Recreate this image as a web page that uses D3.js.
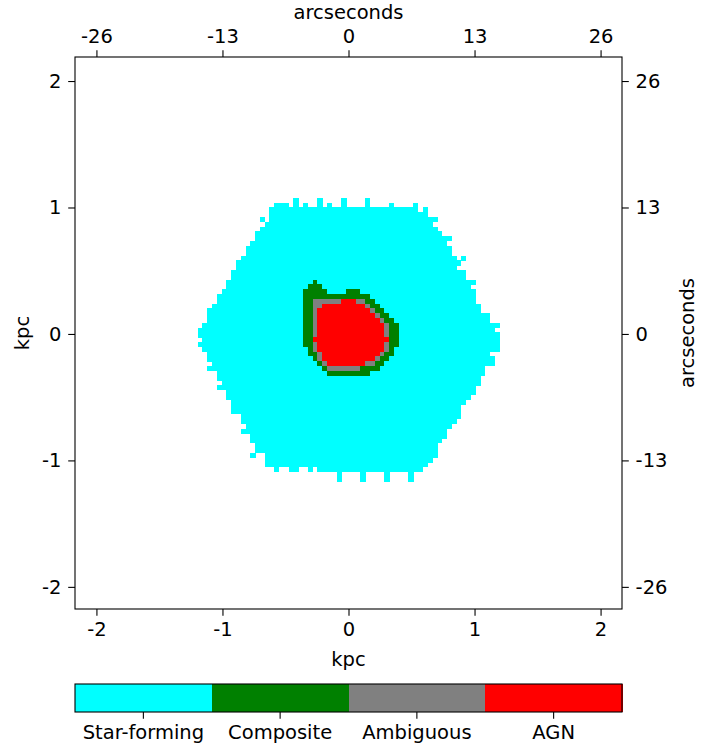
<!DOCTYPE html>
<html><head><meta charset="utf-8">
<script src="https://cdn.jsdelivr.net/npm/d3@7"></script>
<style>
html,body{margin:0;padding:0;background:#fff;}
text{font-family:"DejaVu Sans",sans-serif;fill:#000;}
</style></head>
<body><svg id="chart" width="716" height="749"></svg>
<script>
// ---------------- data ----------------
const categories = ["Star-forming", "Composite", "Ambiguous", "AGN"];
const categoryCodes = ["S", "C", "A", "G"];
const categoryColors = ["#00ffff", "#008000", "#808080", "#ff0000"];
const kpcTicks = [-2, -1, 0, 1, 2];
const kpcTickLabels = ["-2", "-1", "0", "1", "2"];
const arcsecTickLabels = ["-26", "-13", "0", "13", "26"];

// spaxel rows (row id | runs of category code + column range)
const hexRows = [
"27|S-11 S-6 S-1 S4",
"26|S-15:-13 S-11 S-9 S-6 S-4 S-1 S4 S9 S14",
"25|S-16:14 S16",
"24|S-16:16",
"23|S-18 S-16:18",
"22|S-17:17",
"21|S-18:18",
"20|S-19:19",
"19|S-19:21",
"18|S-20:20",
"17|S-21:21",
"16|S-21:21",
"15|S-22:22 S24",
"14|S-23:23",
"13|S-23:22",
"12|S-24:24",
"11|S-24:24",
"10|S-25:26",
"9|S-25:25",
"8|S-26:26",
"7|S-27:26",
"6|S-27:26",
"5|S-28:27",
"4|S-29:27",
"3|S-29:29",
"2|S-29:29",
"1|S-30:31",
"0|S-31:30",
"-1|S-31:31",
"-2|S-30:31",
"-3|S-31:31",
"-4|S-30:31",
"-5|S-29:29",
"-6|S-29:30",
"-7|S-28:30",
"-8|S-29:28",
"-9|S-27:28",
"-10|S-27:27",
"-11|S-26:27",
"-12|S-27:26",
"-13|S-25:26",
"-14|S-25:25",
"-15|S-24:24",
"-16|S-24:23",
"-17|S-24:23",
"-18|S-22:23",
"-19|S-22:22",
"-20|S-21:21",
"-21|S-22:20",
"-22|S-20:20",
"-23|S-20:19",
"-24|S-19:18",
"-25|S-19:18",
"-26|S-20 S-17:18",
"-27|S-17:17",
"-28|S-17:16",
"-29|S-15 S-12:-11 S-8 S-6:15",
"-30|S-2 S3 S8 S13",
"-31|S-2 S3 S8 S13"
];
const nucleusRows = [
"10|C-7",
"9|C-8:-6",
"8|C-9:-5 C0:2",
"7|C-9:4",
"6|C-9:-8 A-7:-2 G-1:1 A2:3 C4:5",
"5|C-9:-8 A-7:-6 G-5:3 A4 C5:6",
"4|C-9:-8 A-7 G-6:4 A5 C6:7",
"3|C-9:-8 A-7 G-6:5 A6 C7:8",
"2|C-9:-8 A-7 G-6:6 A7 C8:9",
"1|C-9:-8 A-7 G-6:7 A8 C9:10",
"0|C-9:-8 A-7 G-6:7 A8 C9:10",
"-1|C-9:-8 A-7 G-6:7 A8 C9:10",
"-2|C-9:-8 G-7:8 C9:10",
"-3|C-9:-8 A-7 G-6:7 A8 C9:10",
"-4|C-8 A-7 G-6:7 A8 C9",
"-5|C-8:-7 A-6 G-5:6 A7 C8:9",
"-6|C-7 A-6 G-5:5 A6 C7:8",
"-7|C-6 A-5 G-4:3 A4:5 C6:7",
"-8|C-5 A-4:2 C3:6",
"-9|C-4:4"
];

// ---------------- layout ----------------
const spax = 0.038;        // spaxel size in kpc
const rowOffset = 0.0123;  // grid offset in kpc
const margin = {left: 75, right: 622, top: 57, bottom: 609};

const svg = d3.select("#chart");
const x = d3.scaleLinear().domain([-2.17, 2.17]).range([margin.left, margin.right]);
const y = d3.scaleLinear().domain([-2.175, 2.19]).range([margin.bottom, margin.top]);
const color = d3.scaleOrdinal().domain(categoryCodes).range(categoryColors);

function parseRows(rows) {
  const cells = new Map();
  rows.forEach(line => {
    const [rid, runs] = line.split("|");
    const r = +rid;
    runs.trim().split(/\s+/).forEach(tok => {
      const code = tok[0];
      const parts = tok.slice(1).split(":").map(Number);
      const a = parts[0], b = parts.length > 1 ? parts[1] : parts[0];
      for (let c = a; c <= b; c++) cells.set(r + "," + c, {r, c, code});
    });
  });
  return cells;
}
const cellMap = parseRows(hexRows);
parseRows(nucleusRows).forEach((v, k) => cellMap.set(k, v));
const cells = Array.from(cellMap.values());

const map = svg.append("g").attr("shape-rendering", "crispEdges");
map.selectAll("rect").data(cells).join("rect")
  .attr("x", d => x((d.c - 0.5) * spax))
  .attr("width", d => x((d.c + 0.5) * spax) - x((d.c - 0.5) * spax) + 0.4)
  .attr("y", d => y(rowOffset + (d.r + 1) * spax))
  .attr("height", d => y(rowOffset + d.r * spax) - y(rowOffset + (d.r + 1) * spax) + 0.4)
  .attr("fill", d => color(d.code));

// ---------------- axes ----------------
const fs = 19.5, tl = 6.8, pad = 6.8;
function styleAxis(g) {
  g.selectAll("path").remove();
  g.selectAll("line").attr("stroke", "#000").attr("stroke-width", 1.1);
  g.selectAll("text").attr("font-size", fs).attr("font-family", "DejaVu Sans");
}
svg.append("g").attr("transform", `translate(0,${margin.bottom})`)
  .call(d3.axisBottom(x).tickValues(kpcTicks).tickFormat((d, i) => kpcTickLabels[i]).tickSize(tl).tickPadding(pad))
  .call(styleAxis);
svg.append("g").attr("transform", `translate(${margin.left},0)`)
  .call(d3.axisLeft(y).tickValues(kpcTicks).tickFormat((d, i) => kpcTickLabels[i]).tickSize(tl).tickPadding(pad))
  .call(styleAxis);
svg.append("g").attr("transform", `translate(0,${margin.top})`)
  .call(d3.axisTop(x).tickValues(kpcTicks).tickFormat((d, i) => arcsecTickLabels[i]).tickSize(tl).tickPadding(pad))
  .call(styleAxis);
svg.append("g").attr("transform", `translate(${margin.right},0)`)
  .call(d3.axisRight(y).tickValues(kpcTicks).tickFormat((d, i) => arcsecTickLabels[i]).tickSize(tl).tickPadding(pad))
  .call(styleAxis);

svg.append("rect").attr("x", margin.left).attr("y", margin.top)
  .attr("width", margin.right - margin.left).attr("height", margin.bottom - margin.top)
  .attr("fill", "none").attr("stroke", "#000").attr("stroke-width", 1.1);

svg.append("text").attr("x", (margin.left + margin.right) / 2).attr("y", 666)
  .attr("text-anchor", "middle").attr("font-size", fs).text("kpc");
svg.append("text").attr("x", (margin.left + margin.right) / 2).attr("y", 19)
  .attr("text-anchor", "middle").attr("font-size", fs).text("arcseconds");
svg.append("text").attr("transform", `translate(29,${(margin.top + margin.bottom) / 2}) rotate(-90)`)
  .attr("text-anchor", "middle").attr("font-size", fs).text("kpc");
svg.append("text").attr("transform", `translate(694,${(margin.top + margin.bottom) / 2}) rotate(-90)`)
  .attr("text-anchor", "middle").attr("font-size", fs).text("arcseconds");

// ---------------- colorbar ----------------
const cb = {top: 684, bottom: 712};
const cbx = d3.scaleBand().domain(categories).range([margin.left, margin.right]).padding(0);
svg.append("g").attr("shape-rendering", "crispEdges").selectAll("rect").data(categories).join("rect")
  .attr("x", d => cbx(d)).attr("y", cb.top).attr("width", cbx.bandwidth() + 0.5)
  .attr("height", cb.bottom - cb.top).attr("fill", (d, i) => categoryColors[i]);
svg.append("rect").attr("x", margin.left).attr("y", cb.top)
  .attr("width", margin.right - margin.left).attr("height", cb.bottom - cb.top)
  .attr("fill", "none").attr("stroke", "#000").attr("stroke-width", 1.1);
svg.append("g").attr("transform", `translate(0,${cb.bottom})`)
  .call(d3.axisBottom(cbx).tickSize(tl).tickPadding(pad))
  .call(styleAxis);
</script>
</body></html>
